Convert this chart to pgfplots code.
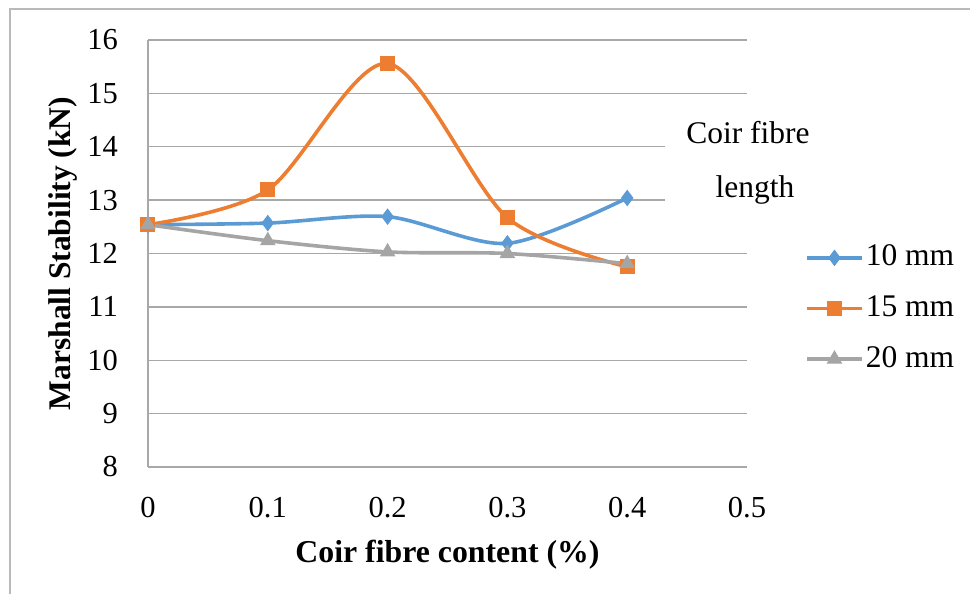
\documentclass[border=0pt]{standalone}
\usepackage{pgfplots}
\pgfplotsset{compat=1.18}
\usepackage{fontspec}
\setmainfont{Liberation Serif}
\definecolor{c10}{RGB}{91,155,213}
\definecolor{c15}{RGB}{237,125,49}
\definecolor{c20}{RGB}{165,165,165}
\definecolor{gridc}{RGB}{168,168,168}
\definecolor{framec}{RGB}{185,185,185}
\begin{document}
\fontsize{31.5}{38}\selectfont
\begin{tikzpicture}
\path[use as bounding box, clip] (-148pt,-127pt) rectangle (822pt,467pt);
\begin{axis}[
  at={(0pt,0pt)}, anchor=south west,
  scale only axis, width=599pt, height=427pt,
  xmin=0, xmax=0.5, ymin=8, ymax=16,
  xtick={0,0.1,0.2,0.3,0.4,0.5}, xticklabels={0,0.1,0.2,0.3,0.4,0.5},
  ytick={8,9,10,11,12,13,14,15,16},
  major tick length=0pt,
  ymajorgrids, grid style={gridc, line width=1.3pt},
  axis x line*=bottom, axis y line*=left,
  axis line style={gridc, line width=1.3pt, -},
  /pgf/number format/assume math mode=true,
  tick label style={font=\fontsize{30.5}{36}\selectfont, inner sep=0pt},
  yticklabel style={anchor=east, xshift=-30pt},
  xticklabel style={anchor=north, yshift=-30pt},
  xlabel={\textbf{Coir fibre content (\%)}},
  ylabel={\textbf{Marshall Stability (kN)}},
  xlabel style={at={(axis description cs:0.5,-0.2045)}, anchor=center, font=\fontsize{31.8}{38}\selectfont},
  ylabel style={at={(axis description cs:-0.142,0.5)}, anchor=center, font=\fontsize{31.5}{38}\selectfont},
  legend style={at={(axis description cs:1.0968,0.525)}, anchor=north west, draw=none, fill=none,
    font=\fontsize{31.5}{38}\selectfont, row sep=21pt, inner sep=0pt, nodes={inner sep=2pt}},
  legend cell align=left,
  legend image code/.code={\draw[mark repeat=2,mark phase=2] plot coordinates {(0pt,0pt)(27.5pt,0pt)(55pt,0pt)};},
]
\addplot[c10, line width=3.6pt, smooth, mark=diamond*, mark size=7.5pt, mark options={solid, fill=c10, line width=1pt}]
  coordinates {(0,12.54)(0.1,12.57)(0.2,12.69)(0.3,12.19)(0.4,13.04)};
\addlegendentry{10 mm}
\addplot[c15, line width=3.6pt, smooth, mark=square*, mark size=7pt, mark options={solid, fill=c15, line width=1pt}]
  coordinates {(0,12.54)(0.1,13.19)(0.2,15.56)(0.3,12.67)(0.4,11.75)};
\addlegendentry{15 mm}
\addplot[c20, line width=3.6pt, smooth, mark=triangle*, mark size=8pt, mark options={solid, fill=c20, line width=1pt}]
  coordinates {(0,12.54)(0.1,12.24)(0.2,12.03)(0.3,12.0)(0.4,11.81)};
\addlegendentry{20 mm}
\end{axis}
\fill[white] (517pt,242pt) rectangle (822pt,364pt);
\node at (600pt,334pt) {Coir fibre};
\node at (607pt,277pt) {length};
\draw[framec, line width=1.5pt] (-138pt,-140pt) -- (-138pt,458pt) -- (840pt,458pt);
\end{tikzpicture}
\end{document}
